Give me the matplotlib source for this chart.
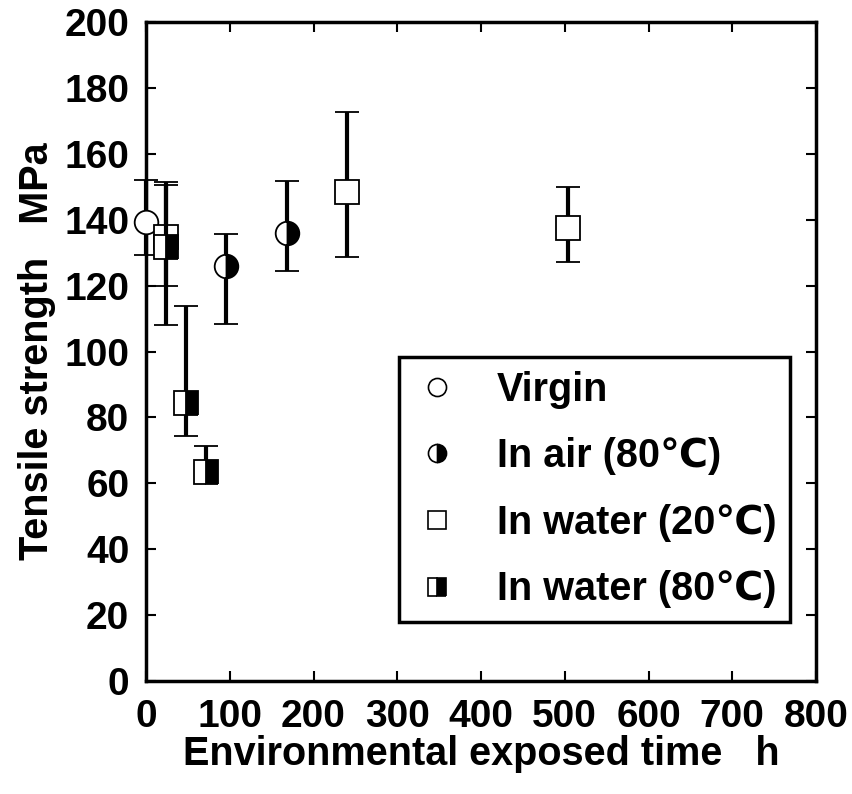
import matplotlib
matplotlib.use("Agg")
import matplotlib.pyplot as plt
from matplotlib.lines import Line2D
import numpy as np

plt.rcParams['font.family'] = ['Liberation Sans', 'DejaVu Sans']
plt.rcParams['font.weight'] = 'bold'

# exposure time (h), mean strength (MPa), error-bar ends (MPa)
virgin_x = [0]
virgin_y = [139.3]
virgin_lo = [129.3]
virgin_hi = [152.1]

air80_x = [96, 168]
air80_y = [126.1, 135.9]
air80_lo = [108.4, 124.4]
air80_hi = [135.8, 151.8]

water20_x = [24, 240, 504]
water20_y = [134.9, 148.3, 137.5]
water20_lo = [119.8, 128.8, 127.2]
water20_hi = [151.5, 172.8, 150.0]

water80_x = [24, 48, 72]
water80_y = [131.8, 84.5, 63.4]
water80_lo = [107.9, 74.5, 61.5]
water80_hi = [150.5, 113.9, 71.4]

labels = ['Virgin', 'In air (80℃)', 'In water (20℃)', 'In water (80℃)']

fig = plt.figure(figsize=(8.52, 7.94), dpi=100)
ax = fig.add_axes([146/852, 1-681/794, (816-146)/852, (681-22)/794])

def yerr(y, lo, hi):
    y = np.array(y)
    return [y - np.array(lo), np.array(hi) - y]

err_kw = dict(ecolor='black', elinewidth=3.0, capsize=8.5, capthick=4.0,
              linestyle='none', markersize=17, markeredgewidth=1.3,
              markeredgecolor='black', clip_on=False)

series = [
    (virgin_x, virgin_y, virgin_lo, virgin_hi, 'o', 'full', 'white'),
    (water20_x, water20_y, water20_lo, water20_hi, 's', 'full', 'white'),
    (air80_x, air80_y, air80_lo, air80_hi, 'o', 'right', 'black'),
    (water80_x, water80_y, water80_lo, water80_hi, 's', 'right', 'black'),
]
for i, (x, y, lo, hi, m, fs, fc) in enumerate(series):
    c = ax.errorbar(x, y, yerr=yerr(y, lo, hi), marker=m, fillstyle=fs,
                    markerfacecolor=fc, markerfacecoloralt='white',
                    zorder=3 + i, **err_kw)
    for part in c.lines[1] + c.lines[2:][0]:
        part.set_clip_on(False)

ax.set_xlim(0, 800)
ax.set_ylim(0, 200)
ax.set_xticks(np.arange(0, 801, 100))
ax.set_yticks(np.arange(0, 201, 20))
ax.tick_params(direction='in', length=7, width=1.5, top=True, right=True,
               labelsize=28, pad=12)
ax.tick_params(axis='x', pad=13)
for s in ax.spines.values():
    s.set_linewidth(2.5)

ax.set_xlabel('Environmental exposed time   h', fontsize=28.5, fontweight='bold', labelpad=0)
ax.set_ylabel('Tensile strength   MPa', fontsize=28.5, fontweight='bold', labelpad=6)

handles = [
    Line2D([], [], linestyle='none', marker='o', markersize=13, markerfacecolor='white',
           markeredgecolor='black', markeredgewidth=1.2),
    Line2D([], [], linestyle='none', marker='o', markersize=13, fillstyle='right',
           markerfacecolor='black', markerfacecoloralt='white',
           markeredgecolor='black', markeredgewidth=1.2),
    Line2D([], [], linestyle='none', marker='s', markersize=13, markerfacecolor='white',
           markeredgecolor='black', markeredgewidth=1.2),
    Line2D([], [], linestyle='none', marker='s', markersize=13, fillstyle='right',
           markerfacecolor='black', markerfacecoloralt='white',
           markeredgecolor='black', markeredgewidth=1.2),
]
leg = ax.legend(handles, labels, loc='upper left',
                bbox_to_anchor=(399/852, 1-357/794), bbox_transform=fig.transFigure,
                fancybox=False, edgecolor='black', framealpha=1,
                prop={'size': 28.5, 'weight': 'bold'}, borderpad=0.35,
                handlelength=1.2, handletextpad=0.92, labelspacing=0.72,
                borderaxespad=0)
leg.get_frame().set_linewidth(2.5)

fig.savefig('out.png', dpi=100)
